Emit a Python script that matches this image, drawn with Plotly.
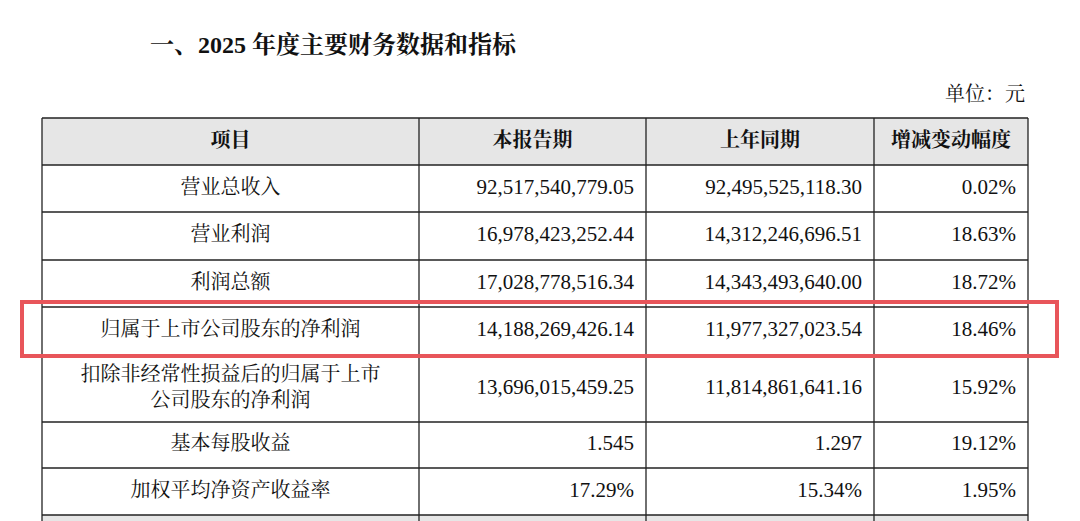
import plotly.graph_objects as go

title = "一、2025 年度主要财务数据和指标"
unit = "单位：元"
headers = ["项目", "本报告期", "上年同期", "增减变动幅度"]
items = ["营业总收入", "营业利润", "利润总额", "归属于上市公司股东的净利润",
         "扣除非经常性损益后的归属于上市<br>公司股东的净利润", "基本每股收益", "加权平均净资产收益率"]
current = ["92,517,540,779.05", "16,978,423,252.44", "17,028,778,516.34", "14,188,269,426.14",
           "13,696,015,459.25", "1.545", "17.29%"]
previous = ["92,495,525,118.30", "14,312,246,696.51", "14,343,493,640.00", "11,977,327,023.54",
            "11,814,861,641.16", "1.297", "15.34%"]
change = ["0.02%", "18.63%", "18.72%", "18.46%", "15.92%", "19.12%", "1.95%"]

# layout in pixel units
col_edges = [42, 419, 646, 874, 1028]
row_edges = [118, 165, 212, 260, 307, 355, 422, 468, 515]
FONT = "Liberation Serif, Noto Serif CJK SC, Noto Sans CJK SC, serif"

fig = go.Figure()
shapes = []
# header fill and cut-off row below
shapes.append(dict(type="rect", x0=col_edges[0], x1=col_edges[-1], y0=row_edges[0], y1=row_edges[1],
                   fillcolor="#e6e6e6", line_width=0, layer="below"))
shapes.append(dict(type="rect", x0=col_edges[0], x1=col_edges[-1], y0=row_edges[-1], y1=540,
                   fillcolor="#e6e6e6", line_width=0, layer="below"))
for y in row_edges:
    shapes.append(dict(type="line", x0=col_edges[0], x1=col_edges[-1], y0=y, y1=y,
                       line=dict(color="#222", width=1.3)))
for x in col_edges:
    shapes.append(dict(type="line", x0=x, x1=x, y0=row_edges[0], y1=540,
                       line=dict(color="#222", width=1.3)))
# red highlight
shapes.append(dict(type="rect", x0=22, x1=1057, y0=302, y1=356,
                   line=dict(color="#e8555a", width=4)))

mids = [(row_edges[i] + row_edges[i + 1]) / 2 for i in range(len(row_edges) - 1)]
col_mid = [(col_edges[i] + col_edges[i + 1]) / 2 for i in range(4)]

fig.add_trace(go.Scatter(x=col_mid, y=[mids[0]] * 4, mode="text",
                         text=["<b>" + h + "</b>" for h in headers],
                         textfont=dict(size=20, family=FONT, color="#111"), hoverinfo="skip"))
fig.add_trace(go.Scatter(x=[col_mid[0]] * len(items), y=mids[1:], mode="text", text=items,
                         textfont=dict(size=20, family=FONT, color="#111"), hoverinfo="skip"))
for ci, vals in enumerate([current, previous, change], start=1):
    fig.add_trace(go.Scatter(x=[col_edges[ci + 1] - 12] * len(vals), y=mids[1:], mode="text",
                             text=vals, textposition="middle left",
                             textfont=dict(size=21, family=FONT, color="#111"), hoverinfo="skip"))

annotations = [
    dict(x=148, y=44, text="<b>" + title + "</b>", showarrow=False, xanchor="left",
         font=dict(size=24, family=FONT, color="#111")),
    dict(x=1027, y=94, text=unit, showarrow=False, xanchor="right",
         font=dict(size=20, family=FONT, color="#111")),
]

# page body adds an 8px offset, so shift the visible range to compensate
fig.update_layout(width=1080, height=521, margin=dict(l=0, r=0, t=0, b=0),
                  paper_bgcolor="white", plot_bgcolor="white", showlegend=False,
                  shapes=shapes, annotations=annotations,
                  xaxis=dict(range=[8, 1088], visible=False, fixedrange=True),
                  yaxis=dict(range=[529, 8], visible=False, fixedrange=True))
fig.write_html("out.html")
